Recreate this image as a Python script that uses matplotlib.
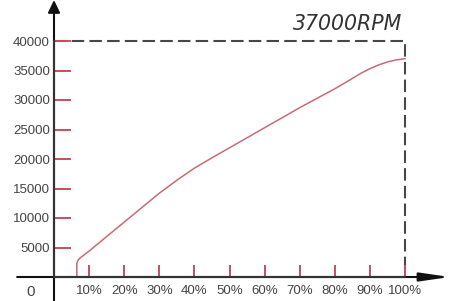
import matplotlib
matplotlib.use("Agg")
import matplotlib.pyplot as plt

# data
throttle = [6.5, 6.5, 6.9, 7.5, 10, 15, 20, 25, 30, 35, 40, 45, 50, 60, 70, 80,
            85, 87.5, 90, 92.5, 95, 97.5, 100]
rpm = [0, 2300, 2900, 3250, 4400, 6850, 9300, 11750, 14200, 16400, 18450, 20200,
       21900, 25300, 28700, 31900, 33650, 34550, 35300, 35950, 36450, 36800, 37000]
x_ticks = [10, 20, 30, 40, 50, 60, 70, 80, 90, 100]
x_labels = ["10%", "20%", "30%", "40%", "50%", "60%", "70%", "80%", "90%", "100%"]
y_ticks = [5000, 10000, 15000, 20000, 25000, 30000, 35000, 40000]
y_labels = ["5000", "10000", "15000", "20000", "25000", "30000", "35000", "40000"]
max_rpm = 40000
title = "37000RPM"

W, H = 450, 301
fig = plt.figure(figsize=(W / 100, H / 100), dpi=100)
ax = fig.add_axes([54 / W, (H - 277) / H, 351 / W, 236 / H])
ax.set_xlim(0, 100)
ax.set_ylim(0, 40000)

red = "#c4505f"
axis_col = "#333333"
lab_col = "#444444"

for s in ["top", "right"]:
    ax.spines[s].set_visible(False)
for s in ["left", "bottom"]:
    ax.spines[s].set_color(axis_col)
    ax.spines[s].set_linewidth(1.5)
    ax.spines[s].set_zorder(3)

ax.set_xticks(x_ticks)
ax.set_xticklabels(x_labels, family="Liberation Sans", fontsize=9.5, color=lab_col)
ax.set_yticks(y_ticks)
ax.set_yticklabels(y_labels, family="Liberation Sans", fontsize=9.5, color=lab_col)
ax.tick_params(axis="x", direction="in", length=9, width=1.4, color=red, pad=6)
ax.tick_params(axis="y", direction="in", length=12.2, width=1.4, color=red, pad=3)

# dashed max lines
ax.plot([0, 100, 100], [max_rpm, max_rpm, 0], color="#474747", lw=1.5,
        linestyle=(0, (6, 2.5)), zorder=1.5, clip_on=False)

# curve
ax.plot(throttle, rpm, color="#c96a74", lw=1.1, zorder=2.8, clip_on=False,
        solid_joinstyle="round")

# axis extensions with arrows
ax.annotate("", xy=(112.8, 0), xytext=(-10.5, 0),
            arrowprops=dict(arrowstyle="-|>,head_length=18,head_width=2.6",
                            mutation_scale=1, color="#111111", lw=1.5,
                            shrinkA=0, shrinkB=0),
            annotation_clip=False, zorder=3)
ax.annotate("", xy=(0, 46950), xytext=(0, -4200),
            arrowprops=dict(arrowstyle="-|>,head_length=7.5,head_width=3.6",
                            mutation_scale=1, color="#111111", lw=1.5,
                            shrinkA=0, shrinkB=0),
            annotation_clip=False, zorder=3)

ax.text(-6.8, -2540, "0", family="Liberation Sans", fontsize=11, color=lab_col,
        ha="center", va="center", clip_on=False)
ax.text(99.2, 41870, title, family="DejaVu Sans", style="italic", fontsize=14.8,
        color="#333333", ha="right", va="baseline", clip_on=False)

fig.savefig("out.png", dpi=100)
